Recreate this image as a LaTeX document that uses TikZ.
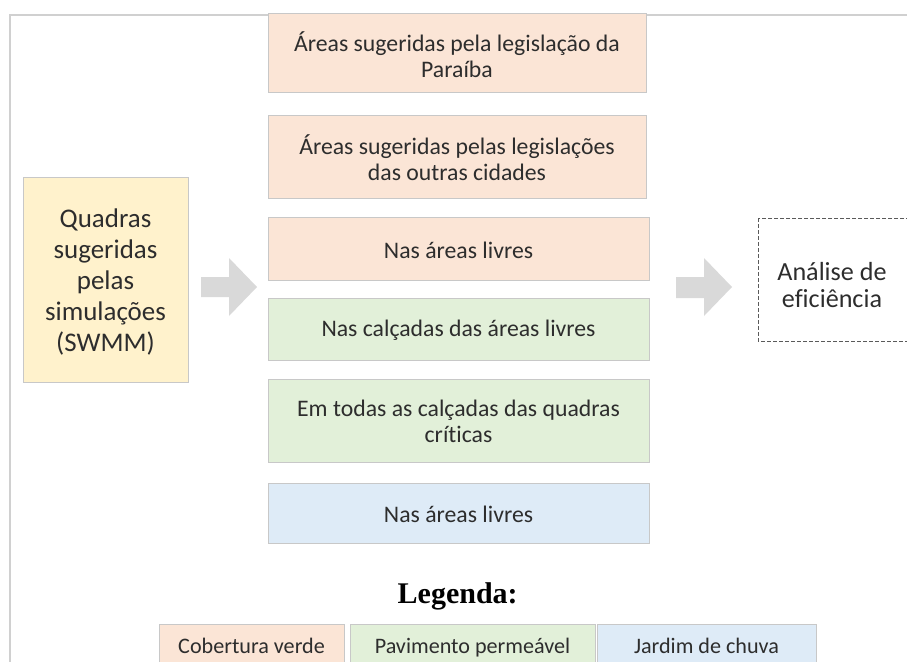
\documentclass[tikz,border=0pt]{standalone}
\usepackage{fontspec}
\setmainfont{Carlito}[Ligatures=NoCommon]
\newfontfamily\legfont{Liberation Serif}

\begin{document}
\begin{tikzpicture}[x=0.75pt,y=0.75pt,yscale=-1,xscale=1,
  boxtxt/.style={align=center, text={rgb, 255:red, 45; green, 45; blue, 45 }, font=\fontsize{17.8}{19.5}\selectfont},
  legtxt/.style={anchor=base, text={rgb, 255:red, 45; green, 45; blue, 45 }, font=\fontsize{16.6}{18}\selectfont},
  boxline/.style={draw={rgb, 255:red, 200; green, 200; blue, 200 }, line width=0.75}]
\useasboundingbox (0,0) rectangle (907,661);

%Straight Lines [frame top]
\draw [color={rgb, 255:red, 208; green, 208; blue, 208 }, line width=1.5] (9,15) -- (915,15) ;
%Straight Lines [frame left]
\draw [color={rgb, 255:red, 208; green, 208; blue, 208 }, line width=1.5] (10,14) -- (10,670) ;

%Shape: Rectangle [quadras]
\draw [boxline][fill={rgb, 255:red, 255; green, 242; blue, 204 }, fill opacity=1 ] (23,177) rectangle (188,382) ;

%Shape: Rectangle [cobertura verde]
\draw [boxline][fill={rgb, 255:red, 251; green, 229; blue, 214 }, fill opacity=1 ] (268,13) rectangle (646,92) ;
\draw [boxline][fill={rgb, 255:red, 251; green, 229; blue, 214 }, fill opacity=1 ] (268,115) rectangle (646,198) ;
\draw [boxline][fill={rgb, 255:red, 251; green, 229; blue, 214 }, fill opacity=1 ] (268,217) rectangle (649,280) ;
%Shape: Rectangle [pavimento permeavel]
\draw [boxline][fill={rgb, 255:red, 226; green, 240; blue, 217 }, fill opacity=1 ] (268,298) rectangle (649,360) ;
\draw [boxline][fill={rgb, 255:red, 226; green, 240; blue, 217 }, fill opacity=1 ] (268,379) rectangle (649,462) ;
%Shape: Rectangle [jardim de chuva]
\draw [boxline][fill={rgb, 255:red, 222; green, 235; blue, 247 }, fill opacity=1 ] (268,483) rectangle (649,543) ;

%Shape: Right Arrow
\draw [draw opacity=0][fill={rgb, 255:red, 217; green, 217; blue, 217 }, fill opacity=1 ] (201,277) -- (229,277) -- (229,258) -- (257,287) -- (229,316) -- (229,297) -- (201,297) -- cycle ;
%Shape: Right Arrow
\draw [draw opacity=0][fill={rgb, 255:red, 217; green, 217; blue, 217 }, fill opacity=1 ] (676,277) -- (704,277) -- (704,258) -- (732,287) -- (704,316) -- (704,298) -- (676,298) -- cycle ;

%Shape: Rectangle [dashed]
\draw [color={rgb, 255:red, 90; green, 90; blue, 90 }, line width=0.75][dash pattern={on 3pt off 1.5pt}] (758,218) rectangle (915,341) ;

%Shape: Rectangle [legenda]
\draw [boxline][fill={rgb, 255:red, 251; green, 229; blue, 214 }, fill opacity=1 ] (159,624) rectangle (344,675) ;
\draw [boxline][fill={rgb, 255:red, 226; green, 240; blue, 217 }, fill opacity=1 ] (350,624) rectangle (595,675) ;
\draw [boxline][fill={rgb, 255:red, 222; green, 235; blue, 247 }, fill opacity=1 ] (597,624) rectangle (816,675) ;

% Text Node
\draw (105.5,282) node (quadras) [boxtxt, font=\fontsize{20.2}{23.25}\selectfont] {Quadras\\sugeridas\\pelas\\simulações\\(SWMM)};
% Text Node
\draw (457,55) node (paraiba) [boxtxt] {Áreas sugeridas pela legislação da\\Paraíba};
% Text Node
\draw (457,158) node (cidades) [boxtxt] {Áreas sugeridas pelas legislações\\das outras cidades};
% Text Node
\draw (458.5,250) node (livresA) [boxtxt] {Nas áreas livres};
% Text Node
\draw (458.5,330) node (calcadas) [boxtxt] {Nas calçadas das áreas livres};
% Text Node
\draw (458.5,421) node (criticas) [boxtxt] {Em todas as calçadas das quadras\\críticas};
% Text Node
\draw (458.5,514) node (livresB) [boxtxt] {Nas áreas livres};
% Text Node
\draw (832,285) node (eficiencia) [boxtxt, font=\fontsize{19.6}{19.8}\selectfont] {Análise de\\eficiência};

% Text Node
\draw (393,603) node (legenda) [anchor=base west, font=\legfont\bfseries\fontsize{22.5}{27}\selectfont] {Legenda:};
% Text Node
\draw (251.5,653) node (cobertura) [legtxt] {Cobertura verde};
% Text Node
\draw (472.5,653) node (pavimento) [legtxt] {Pavimento permeável};
% Text Node
\draw (706.5,653) node (jardim) [legtxt] {Jardim de chuva};

\end{tikzpicture}
\end{document}
